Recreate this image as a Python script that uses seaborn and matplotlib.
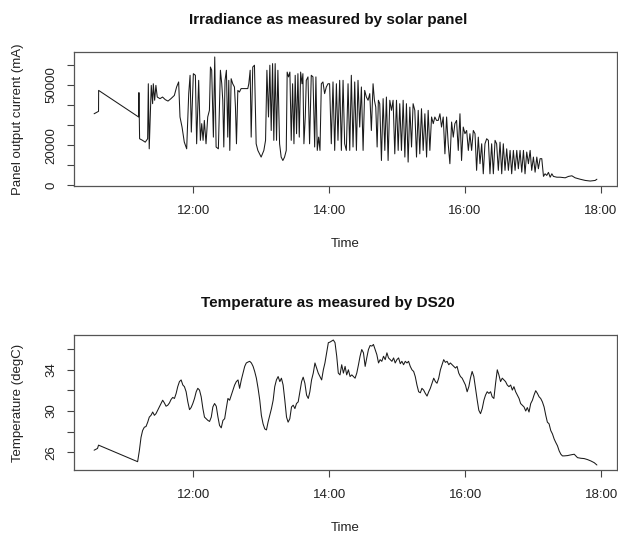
import pandas as pd
import matplotlib
matplotlib.use('Agg')
import matplotlib.pyplot as plt
import matplotlib.dates as mdates
import seaborn as sns

# solar panel readings: minutes after 10:00 and current in mA
irr_minutes = [32.3, 36.2, 36.3, 71.6, 71.9, 72.5, 75.1, 77.5, 79.6, 80.2, 81.0, 82.8, 84.0, 84.6, 85.8, 86.9, 88.1, 90.5, 92.8, 95.2,
               97.6, 100.2, 103.2, 105.2, 107.0, 108.2, 110.0, 112.0, 114.1, 115.9, 117.1, 118.2, 120.0, 121.8, 122.9, 124.7, 126.2, 127.4, 128.6, 129.7,
               131.2, 132.7, 134.2, 135.1, 136.2, 137.7, 138.9, 140.1,
               142.1, 143.9, 145.1, 146.0, 146.9, 148.0, 149.2, 150.4, 151.3, 152.2, 153.4, 154.8, 156.3, 157.2, 158.1, 159.3, 160.7, 162.2, 165.2, 168.1,
               169.0, 170.2, 171.1, 172.5, 174.0, 175.5, 177.0, 179.9, 182.3, 183.8, 185.0, 186.4, 187.6, 188.8, 190.0, 191.1, 192.3, 193.5, 194.7, 196.2,
               197.6, 199.1, 200.6, 202.1, 202.9, 204.1, 205.3, 206.5, 207.7, 208.9, 210.0, 211.2, 212.4, 213.6, 214.8, 216.0, 216.8, 217.7, 218.9, 219.8,
               221.3, 222.7, 224.2, 225.7, 227.2, 228.3, 229.5, 230.7, 231.9, 233.1, 234.5, 236.0, 237.5, 239.0, 240.4, 241.9, 243.4, 244.9, 246.4, 247.8,
               249.3, 250.8, 252.3,
               253.7, 255.2, 256.7, 258.2, 259.6, 261.1, 262.6, 264.1, 265.5, 267.0, 268.5, 270.0, 271.4, 272.9, 274.4, 275.9, 277.3, 278.8, 280.0, 281.2,
               282.4, 283.5, 284.7, 286.2, 287.7, 289.2, 290.6, 292.1, 293.6, 295.1, 296.5, 298.0, 299.5, 301.0, 302.4, 303.9, 305.4, 306.9, 308.3, 309.8,
               311.3, 312.8, 314.2, 315.7, 317.2, 318.7, 320.1, 321.6, 323.1, 324.6, 326.1, 327.5, 329.0, 330.5, 332.0, 333.4, 334.9, 336.4, 337.9, 339.3,
               340.8, 342.3, 343.8, 345.2, 346.7, 348.2, 349.7, 351.1, 352.6, 354.1, 355.6, 357.0, 358.5, 360.0, 361.5, 363.0,
               364.4, 365.9, 367.4, 368.9, 370.3, 371.8, 373.3, 374.8, 376.2, 377.7, 379.2, 380.7, 382.1, 383.6, 385.1, 386.6, 388.0, 389.5, 391.0, 392.5,
               393.9, 395.4, 396.9, 398.4, 399.9, 401.3, 402.8, 404.3, 405.8, 407.2, 408.7, 410.2, 411.7, 413.1, 414.6, 416.1, 417.6, 419.0, 420.5, 422.0,
               423.5, 424.9, 426.4, 427.9, 429.4, 430.8, 432.3, 433.8, 435.3, 436.8, 438.2, 441.2, 444.1, 448.6, 451.5, 454.5, 457.4, 461.8, 466.3, 470.7,
               475.1, 476.6]
irr_current = [35600, 36800, 47200, 34000, 46100, 23200, 22400, 21500, 23200, 50500, 18200, 49700, 40600, 50500, 42300, 49700, 43900, 43100, 43900, 42600,
               41900, 43100, 44700, 48900, 51400, 34000, 29000, 21500, 18200, 45600, 54700, 26500, 55500, 54700, 20700, 52200, 22400, 30700, 22400, 32300,
               20700, 34000, 37300, 58800, 57200, 24000, 63800, 19100,
               18200, 57200, 50500, 42300, 19100, 52200, 57200, 24000, 52200, 17400, 53000, 50500, 48900, 38900, 20700, 47200, 46400, 48100, 48100, 48100,
               50500, 57200, 24000, 58800, 59700, 20700, 17400, 14100, 17400, 22400, 57200, 34000, 59700, 27300, 60500, 22400, 60500, 22400, 57200, 20700,
               14100, 12400, 14100, 17400, 56300, 53900, 56300, 22400, 50500, 20700, 54700, 25700, 55500, 24000, 56300, 50500, 55500, 20700, 34000, 52200,
               53900, 20700, 54700, 53900, 19100, 53900, 17400, 24000, 17400, 50500, 51400, 45600, 48900, 50500, 50500, 20700, 51400, 17400, 50500, 22400,
               52200, 17400, 52200,
               20700, 17400, 50500, 17400, 54700, 19100, 51400, 17400, 52200, 29000, 48900, 17400, 47200, 43900, 42300, 45600, 27300, 50500, 42300, 38900,
               19100, 42300, 40600, 12400, 43100, 17400, 43900, 12400, 42300, 37300, 42300, 15700, 42300, 17400, 40600, 17400, 42300, 14100, 40600, 11600,
               38900, 19100, 40600, 37300, 14100, 37300, 15700, 38100, 17400, 35600, 14100, 37300, 17400, 34000, 30700, 34000, 32300, 32300, 35600, 29000,
               34000, 15700, 34000, 20700, 10800, 31500, 24000, 30700, 32300, 17400, 35600, 12400, 29000, 25700, 27300, 17400,
               25700, 17400, 27300, 25700, 7500, 24000, 10800, 20700, 5800, 20700, 23200, 22400, 5800, 20700, 5800, 22400, 20700, 7500, 21500, 5800,
               20700, 7500, 18200, 7500, 17400, 5800, 17400, 7500, 17400, 8300, 17400, 6600, 17400, 5800, 16600, 10800, 17400, 7500, 14100, 6600,
               14100, 8300, 13300, 13300, 4500, 5800, 5000, 6500, 4100, 5800, 4500, 4100, 4100, 3800, 4500, 4800, 3800, 3100, 2500, 2200,
               2500, 3100]

# DS20 readings: minutes after 10:00 and temperature in degC
temp_minutes = [32.3, 35.3, 36.2, 70.7, 72.2, 73.7, 75.1, 76.6, 78.1, 79.6, 81.0, 82.5, 84.0, 85.5, 86.9, 88.4, 89.9, 91.4, 92.8, 94.3,
                95.8, 97.3, 98.8, 100.2, 101.7, 103.2, 104.7, 106.1, 107.6, 109.1, 110.6, 112.0, 113.5, 115.0, 116.5, 117.9, 119.4, 120.9, 122.4, 123.8,
                125.3, 126.8, 128.3, 129.7, 131.2, 132.7, 134.2, 135.7, 137.1, 138.6, 140.1, 141.6, 143.0, 144.5, 146.0, 147.5, 148.9, 150.4, 151.9, 153.4,
                154.8, 156.3, 157.8, 159.3, 160.7, 162.2, 163.7, 165.2, 166.6, 168.1, 169.6, 171.1, 172.6, 174.0, 175.5, 177.0, 178.5, 179.9, 181.4, 182.9,
                184.4, 185.8, 187.3, 188.8, 190.3, 191.7, 193.2, 194.7, 196.2, 197.6, 199.1, 200.6, 202.1, 203.5, 205.0, 206.5, 208.0, 209.5, 210.9, 212.4,
                213.9, 215.4, 216.8, 218.3, 219.8, 221.3, 222.7,
                224.2, 225.7, 227.2, 228.7, 230.1, 231.6, 233.1, 234.6, 236.0, 237.5, 239.0, 240.5, 241.9, 243.4, 244.9, 246.4, 247.8, 249.3, 250.8, 252.3,
                253.8, 255.2, 256.7, 258.2, 259.7, 261.1, 262.6, 264.1, 265.6, 267.0, 268.5, 270.0, 271.5, 272.9, 274.4, 275.9, 277.4, 278.8, 280.3, 281.8,
                283.3, 284.7, 286.2, 287.7, 289.2, 290.7, 292.1, 293.6, 295.1, 296.6, 298.0, 299.5, 301.0, 302.5, 303.9, 305.4, 306.9, 308.4, 309.8, 311.3,
                312.8, 314.3, 315.7, 317.2, 318.7, 320.2, 321.6, 323.1, 324.6, 326.1, 327.6, 329.0, 330.5, 332.0, 333.5, 334.9, 336.4, 337.9, 339.4, 340.8,
                342.3, 343.8, 345.3, 346.7, 348.2, 349.7, 351.2, 352.6, 354.1, 355.6, 357.1, 358.5, 360.0, 361.5, 363.0, 364.4, 365.9, 367.4, 368.9, 370.4,
                371.8, 373.3, 374.8, 376.3, 377.7, 379.2, 380.7, 382.2, 383.6, 385.1, 386.6, 388.1, 389.5, 391.0, 392.5, 394.0, 395.4, 396.9, 398.4, 399.9,
                401.4, 402.8, 404.3, 405.8, 407.3, 408.7, 410.2, 411.7, 413.2, 414.6, 416.1, 417.6, 419.1, 420.5, 422.0, 423.5, 425.0, 426.4, 427.9, 429.4,
                430.9, 432.3, 433.8, 435.3, 436.8, 438.3, 439.7, 441.2, 442.7, 444.2, 445.6, 447.1, 450.1, 453.0, 456.0, 457.4, 458.9, 461.9, 464.8, 467.8,
                470.7, 473.7, 476.0]
temp_degc = [26.21, 26.38, 26.70, 25.10, 26.15, 27.45, 28.11, 28.43, 28.50, 28.92, 29.41, 29.58, 29.90, 29.58, 29.74, 30.07, 30.39, 30.72, 31.04, 30.78,
             30.46, 30.56, 30.78, 31.11, 31.31, 31.21, 31.70, 32.35, 32.84, 33.00, 32.51, 32.35, 31.86, 30.88, 30.13, 30.33, 30.72, 31.21, 31.86, 32.19,
             32.02, 31.37, 30.23, 29.41, 29.25, 29.09, 28.99, 29.41, 30.39, 30.72, 30.46, 29.41, 28.60, 28.37, 29.09, 29.25, 30.23, 31.21, 31.04, 31.53,
             32.02, 32.51, 32.84, 33.00, 32.19, 33.00, 33.66, 34.31, 34.64, 34.73, 34.80, 34.64, 34.31, 33.82, 33.17, 32.19, 31.04, 29.58, 28.76, 28.27,
             28.17, 28.92, 29.58, 30.23, 31.04, 32.35, 33.00, 33.33, 32.84, 33.17, 32.51, 31.04, 29.41, 28.92, 29.25, 30.39, 30.56, 30.23, 30.72, 30.88,
             31.86, 32.84, 33.27, 32.68, 31.53, 31.21, 31.86,
             33.00, 33.66, 34.64, 34.15, 33.66, 33.33, 33.00, 33.98, 34.64, 35.62, 36.60, 36.66, 36.76, 36.86, 36.60, 35.29, 33.66, 33.49, 34.47, 33.66,
             34.31, 33.49, 33.98, 33.33, 33.49, 33.33, 33.17, 33.66, 34.47, 35.29, 35.94, 35.62, 34.31, 35.13, 35.94, 36.33, 36.27, 36.43, 35.94, 35.45,
             34.64, 34.96, 34.80, 35.29, 34.96, 35.62, 35.13, 34.96, 34.80, 35.13, 34.64, 34.96, 35.13, 34.57, 34.80, 34.47, 34.80, 34.64, 34.80, 34.31,
             33.98, 33.82, 33.33, 32.51, 31.86, 31.76, 32.19, 32.02, 31.70, 31.44, 31.86, 32.19, 32.68, 33.17, 32.84, 32.68, 33.17, 33.98, 34.47, 34.96,
             34.70, 34.80, 34.47, 34.64, 34.47, 34.31, 34.15, 34.31, 33.66, 33.33, 33.17, 32.84, 32.51, 31.86, 32.35, 33.17, 33.82, 33.33, 32.19, 31.04,
             30.07, 29.74, 30.23, 31.04, 31.53, 31.86, 31.70, 31.86, 31.37, 31.21, 32.68, 33.98, 33.49, 32.84, 33.17, 33.00, 32.84, 32.51, 32.35, 32.51,
             32.02, 32.35, 31.86, 31.53, 31.21, 30.72, 30.56, 30.39, 30.00, 30.33, 29.90, 30.72, 31.04, 31.53, 31.96, 31.70, 31.37, 31.21, 30.88, 30.39,
             29.58, 28.92, 28.76, 28.11, 27.78, 27.29, 26.96, 26.64, 26.15, 25.82, 25.66, 25.66, 25.69, 25.76, 25.82, 25.66, 25.49, 25.43, 25.40, 25.30,
             25.17, 25.00, 24.78]

irr_ticks = [0, 10000, 20000, 30000, 40000, 50000, 60000]
irr_ticklabels = ['0', '', '20000', '', '', '50000', '']
temp_ticks = [26, 28, 30, 32, 34, 36]
temp_ticklabels = ['26', '', '30', '', '34', '']

start = pd.Timestamp('2013-06-01 10:00')
irr = pd.DataFrame({'time': start + pd.to_timedelta(irr_minutes, unit='min'), 'current': irr_current})
temp = pd.DataFrame({'time': start + pd.to_timedelta(temp_minutes, unit='min'), 'temp': temp_degc})

sns.set_theme(style='ticks')
plt.rcParams['font.family'] = ['Liberation Sans', 'DejaVu Sans']

fig = plt.figure(figsize=(6.18, 5.33), dpi=100)
ax1 = fig.add_axes([74 / 618, 1 - 186 / 533, 543 / 618, 134 / 533])
ax2 = fig.add_axes([74 / 618, 1 - 470 / 533, 543 / 618, 135 / 533])


def style_panel(ax, title, ylabel, yticks, yticklabels):
    ax.margins(x=0.04, y=0.04)
    ax.xaxis.set_major_locator(mdates.HourLocator(byhour=[12, 14, 16, 18]))
    ax.xaxis.set_major_formatter(mdates.DateFormatter('%H:%M'))
    ax.set_yticks(yticks)
    ax.set_yticklabels(yticklabels, rotation=90, va='center')
    ax.tick_params(axis='both', direction='out', length=5, width=0.8, color='#444444',
                   labelsize=9.5, labelcolor='#222222')
    ax.tick_params(axis='x', pad=9)
    ax.tick_params(axis='y', pad=7)
    for sp in ax.spines.values():
        sp.set_visible(True)
        sp.set_color('#555555')
        sp.set_linewidth(0.9)
    ax.set_title(title, fontsize=11, fontweight='bold', x=0.468, pad=20.5, color='#111111')
    ax.set_xlabel('Time', fontsize=9.5, color='#222222')
    ax.set_ylabel(ylabel, fontsize=9.5, color='#222222')
    ax.xaxis.set_label_coords(0.5, -0.385)
    ax.yaxis.set_label_coords(-0.092, 0.5)


sns.lineplot(data=irr, x='time', y='current', ax=ax1, color='#1a1a1a', linewidth=0.75,
             estimator=None, sort=False)
style_panel(ax1, 'Irradiance as measured by solar panel', 'Panel output current (mA)',
            irr_ticks, irr_ticklabels)

sns.lineplot(data=temp, x='time', y='temp', ax=ax2, color='#1a1a1a', linewidth=0.75,
             estimator=None, sort=False)
style_panel(ax2, 'Temperature as measured by DS20', 'Temperature (degC)',
            temp_ticks, temp_ticklabels)

fig.savefig('out.png', dpi=100)
